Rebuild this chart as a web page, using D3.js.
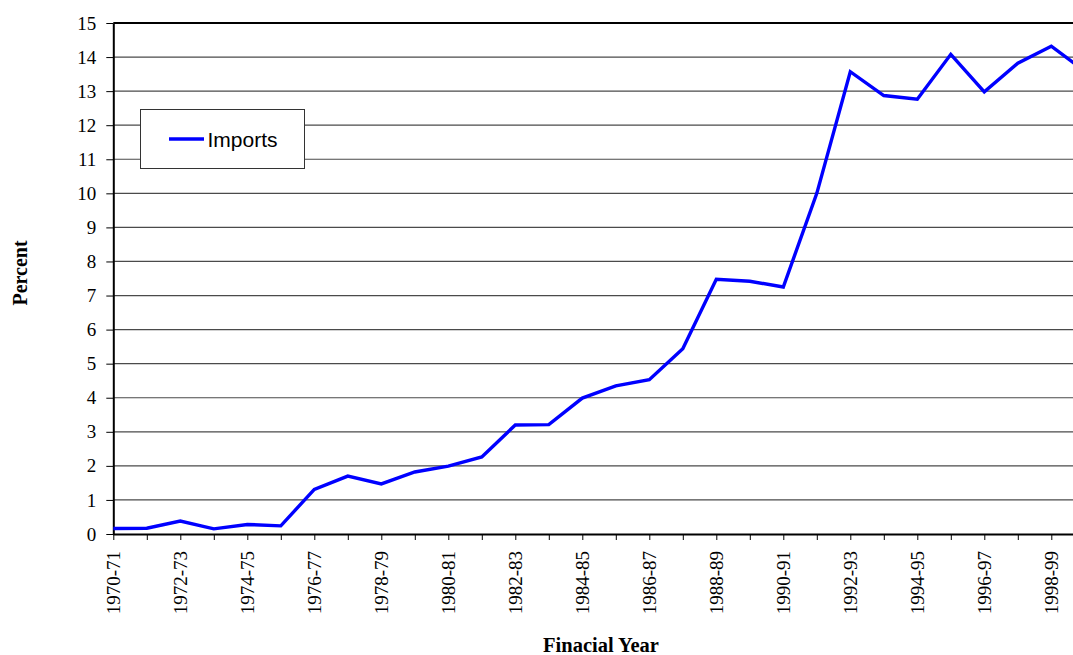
<!DOCTYPE html>
<html>
<head>
<meta charset="utf-8">
<script src="https://cdn.jsdelivr.net/npm/d3@7/dist/d3.min.js"></script>
<style>
  html, body { margin: 0; padding: 0; background: #fff; overflow: hidden; }
  svg { display: block; }
  .serif { font-family: "Liberation Serif", "Times New Roman", serif; }
</style>
</head>
<body>
<svg id="chart" width="1073" height="655"></svg>
<script>
// Financial years on the category axis
const years = [
  "1970-71","1971-72","1972-73","1973-74","1974-75","1975-76","1976-77","1977-78",
  "1978-79","1979-80","1980-81","1981-82","1982-83","1983-84","1984-85","1985-86",
  "1986-87","1987-88","1988-89","1989-90","1990-91","1991-92","1992-93","1993-94",
  "1994-95","1995-96","1996-97","1997-98","1998-99","1999-00"
];
// Imports, percent
const imports = [
  0.16, 0.17, 0.38, 0.15, 0.28, 0.24, 1.31, 1.70,
  1.47, 1.82, 1.99, 2.26, 3.20, 3.21, 3.99, 4.35,
  4.53, 5.44, 7.48, 7.42, 7.25, 10.00, 13.57, 12.87,
  12.76, 14.08, 12.98, 13.82, 14.32, 13.58
];
const yTickValues = [0,1,2,3,4,5,6,7,8,9,10,11,12,13,14,15];

(function draw() {
  const svg = d3.select("#chart");
  const W = 1073;
  const plotLeft = 113.3, plotBottom = 534, plotTop = 23;
  const step = 33.5;

  const x = d3.scalePoint().domain(years).range([plotLeft, plotLeft + step * (years.length - 1)]);
  const y = d3.scaleLinear().domain([0, 15]).range([plotBottom, plotTop]);

  const serif = "Liberation Serif, Times New Roman, serif";

  // horizontal gridlines
  svg.append("g")
    .selectAll("line")
    .data(yTickValues.filter(v => v > 0 && v < 15))
    .join("line")
    .attr("x1", plotLeft).attr("x2", W + 20)
    .attr("y1", d => y(d)).attr("y2", d => y(d))
    .attr("stroke", "#4a4a4a").attr("stroke-width", 1.2);

  // top border of the plot area
  svg.append("line")
    .attr("x1", plotLeft).attr("x2", W + 20)
    .attr("y1", y(15)).attr("y2", y(15))
    .attr("stroke", "#000").attr("stroke-width", 2);

  // y axis
  const yAxis = svg.append("g")
    .attr("transform", `translate(${plotLeft},0)`)
    .call(d3.axisLeft(y).tickValues(yTickValues).tickSize(7).tickPadding(10).tickSizeOuter(0));
  yAxis.attr("font-family", null).attr("font-size", null).classed("serif", true);
  yAxis.select(".domain").attr("stroke", "#000").attr("stroke-width", 2);
  yAxis.selectAll(".tick line").attr("stroke", "#000").attr("stroke-width", 1);
  yAxis.selectAll(".tick text")
    .style("font-family", serif).style("font-size", "19px").attr("fill", "#000");

  // x axis
  const xAxis = svg.append("g")
    .attr("transform", `translate(0,${plotBottom})`)
    .call(d3.axisBottom(x).tickSize(6).tickSizeOuter(0)
      .tickFormat((d, i) => (i % 2 === 0 ? d : "")));
  xAxis.attr("font-family", null).attr("font-size", null).classed("serif", true);
  xAxis.select(".domain").attr("stroke", "#000").attr("stroke-width", 2)
    .attr("d", `M${plotLeft},0.5H${W + 20}`);
  xAxis.selectAll(".tick line").attr("stroke", "#000").attr("stroke-width", 1);
  xAxis.selectAll(".tick text")
    .style("font-family", serif).style("font-size", "19px").attr("fill", "#000")
    .attr("transform", "rotate(-90)")
    .attr("text-anchor", "end")
    .attr("x", -17).attr("y", 0).attr("dy", "0.33em");

  // imports line
  svg.append("path")
    .datum(imports)
    .attr("fill", "none")
    .attr("stroke", "#0000ff")
    .attr("stroke-width", 3.4)
    .attr("stroke-linejoin", "miter")
    .attr("d", d3.line().x((d, i) => x(years[i])).y(d => y(d)));

  // axis titles
  svg.append("text")
    .attr("transform", "translate(27,273) rotate(-90)")
    .attr("text-anchor", "middle")
    .style("font-family", serif).style("font-weight", "bold").style("font-size", "20px")
    .text("Percent");

  svg.append("text")
    .attr("x", 601).attr("y", 652)
    .attr("text-anchor", "middle")
    .style("font-family", serif).style("font-weight", "bold").style("font-size", "20.5px")
    .text("Finacial Year");

  // legend
  const lg = svg.append("g");
  lg.append("rect")
    .attr("x", 140.5).attr("y", 109.5).attr("width", 164).attr("height", 59)
    .attr("fill", "#fff").attr("stroke", "#333").attr("stroke-width", 1);
  lg.append("line")
    .attr("x1", 169).attr("x2", 204).attr("y1", 139).attr("y2", 139)
    .attr("stroke", "#0000ff").attr("stroke-width", 3.4);
  lg.append("text")
    .attr("x", 207.5).attr("y", 146.5)
    .style("font-family", "Liberation Sans, Arial, sans-serif").style("font-size", "21px")
    .text("Imports");
})();
</script>
</body>
</html>
